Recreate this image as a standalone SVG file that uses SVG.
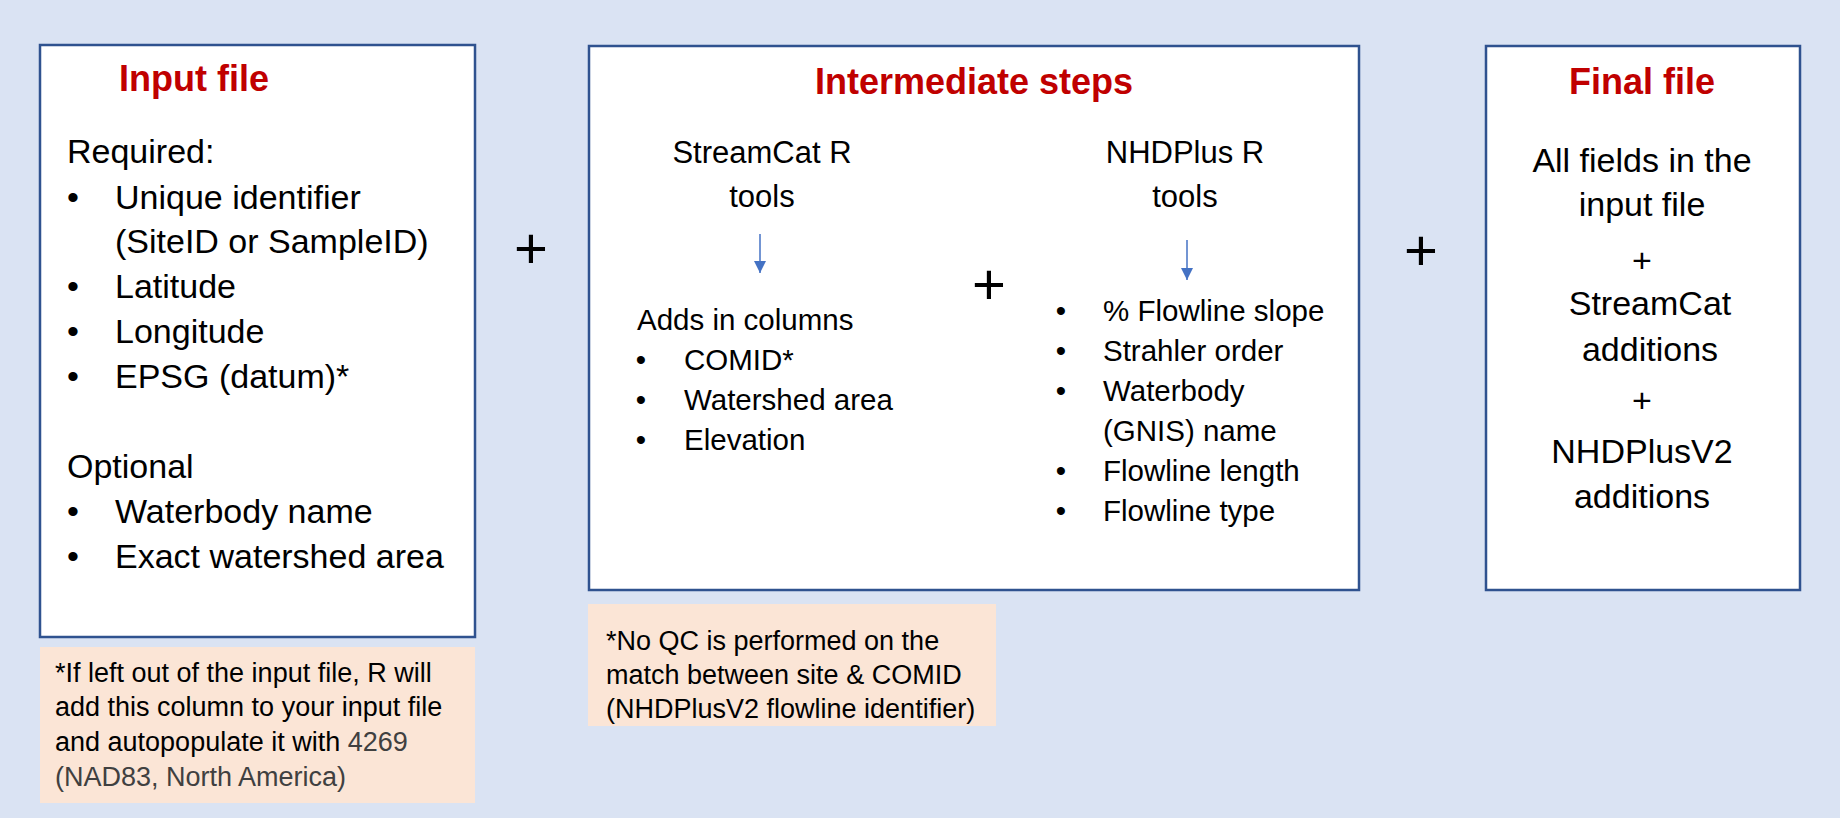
<svg xmlns="http://www.w3.org/2000/svg" width="1840" height="818" viewBox="0 0 1840 818">
  <defs>
    <style>
      .box { fill: #FFFFFF; stroke: #2F528F; stroke-width: 2.5; }
      .note { fill: #FBE5D6; }
      .title { font-family: "Liberation Sans", Arial, sans-serif; font-weight: bold; fill: #C00000; font-size: 36px; text-anchor: middle; }
      .t { font-family: "Liberation Sans", Arial, sans-serif; fill: #000000; }
      .l { font-size: 34px; }
      .m { font-size: 29.5px; }
      .h { font-size: 31px; text-anchor: middle; }
      .f { font-size: 34px; text-anchor: middle; }
      .n { font-size: 27px; }
      .c { text-anchor: middle; }
      .gray { fill: #404040; }
      .plus { font-family: "Liberation Sans", Arial, sans-serif; font-size: 58px; text-anchor: middle; fill: #000000; }
      .arrow { stroke: #4472C4; stroke-width: 1.5; fill: none; }
    </style>
    <marker id="ah" markerWidth="12" markerHeight="12" refX="12" refY="6" orient="auto" markerUnits="userSpaceOnUse">
      <path d="M0,0 L12,6 L0,12 Z" fill="#4472C4"/>
    </marker>
  </defs>

  <rect x="0" y="0" width="1840" height="818" fill="#DAE3F3"/>

  <g id="input-file">
    <rect class="box" x="40" y="45" width="435" height="592"/>
    <text class="title" x="194" y="91">Input file</text>
    <text class="t l" x="67" y="163">Required:</text>
    <text class="t l c" x="73" y="209">•</text>
    <text class="t l" x="115" y="209">Unique identifier</text>
    <text class="t l" x="115" y="253">(SiteID or SampleID)</text>
    <text class="t l c" x="73" y="298">•</text>
    <text class="t l" x="115" y="298">Latitude</text>
    <text class="t l c" x="73" y="343">•</text>
    <text class="t l" x="115" y="343">Longitude</text>
    <text class="t l c" x="73" y="388">•</text>
    <text class="t l" x="115" y="388">EPSG (datum)*</text>
    <text class="t l" x="67" y="478">Optional</text>
    <text class="t l c" x="73" y="523">•</text>
    <text class="t l" x="115" y="523">Waterbody name</text>
    <text class="t l c" x="73" y="568">•</text>
    <text class="t l" x="115" y="568">Exact watershed area</text>
  </g>

  <g id="input-note">
    <rect class="note" x="40" y="647" width="435" height="156"/>
    <text class="t n" x="55" y="682">*If left out of the input file, R will</text>
    <text class="t n" x="55" y="716">add this column to your input file</text>
    <text class="t n" x="55" y="751">and autopopulate it with <tspan class="gray">4269</tspan></text>
    <text class="t n gray" x="55" y="786">(NAD83, North America)</text>
  </g>

  <g id="intermediate-steps">
    <rect class="box" x="589" y="46" width="770" height="544"/>
    <text class="title" x="974" y="94">Intermediate steps</text>
    <text class="t h" x="762" y="163">StreamCat R</text>
    <text class="t h" x="762" y="207">tools</text>
    <text class="t m" x="637" y="330">Adds in columns</text>
    <text class="t m c" x="641" y="370">•</text>
    <text class="t m" x="684" y="370">COMID*</text>
    <text class="t m c" x="641" y="410">•</text>
    <text class="t m" x="684" y="410">Watershed area</text>
    <text class="t m c" x="641" y="450">•</text>
    <text class="t m" x="684" y="450">Elevation</text>
    <text class="t h" x="1185" y="163">NHDPlus R</text>
    <text class="t h" x="1185" y="207">tools</text>
    <text class="t m c" x="1061" y="321">•</text>
    <text class="t m" x="1103" y="321">% Flowline slope</text>
    <text class="t m c" x="1061" y="361">•</text>
    <text class="t m" x="1103" y="361">Strahler order</text>
    <text class="t m c" x="1061" y="401">•</text>
    <text class="t m" x="1103" y="401">Waterbody</text>
    <text class="t m" x="1103" y="441">(GNIS) name</text>
    <text class="t m c" x="1061" y="481">•</text>
    <text class="t m" x="1103" y="481">Flowline length</text>
    <text class="t m c" x="1061" y="521">•</text>
    <text class="t m" x="1103" y="521">Flowline type</text>
  </g>

  <g id="intermediate-note">
    <rect class="note" x="588" y="604" width="408" height="122"/>
    <text class="t n" x="606" y="650">*No QC is performed on the</text>
    <text class="t n" x="606" y="684">match between site &amp; COMID</text>
    <text class="t n" x="606" y="718">(NHDPlusV2 flowline identifier)</text>
  </g>

  <g id="final-file">
    <rect class="box" x="1486" y="46" width="314" height="544"/>
    <text class="title" x="1642" y="94">Final file</text>
    <text class="t f" x="1642" y="172">All fields in the</text>
    <text class="t f" x="1642" y="216">input file</text>
    <text class="t f" x="1642" y="272">+</text>
    <text class="t f" x="1650" y="315">StreamCat</text>
    <text class="t f" x="1650" y="361">additions</text>
    <text class="t f" x="1642" y="412">+</text>
    <text class="t f" x="1642" y="463">NHDPlusV2</text>
    <text class="t f" x="1642" y="508">additions</text>
  </g>

  <g id="operators">
    <text class="plus" x="531" y="268">+</text>
    <text class="plus" x="989" y="304">+</text>
    <text class="plus" x="1421" y="270">+</text>
  </g>

  <g id="connectors">
    <line class="arrow" x1="760" y1="234" x2="760" y2="273" marker-end="url(#ah)"/>
    <line class="arrow" x1="1187" y1="240" x2="1187" y2="280" marker-end="url(#ah)"/>
  </g>
</svg>
